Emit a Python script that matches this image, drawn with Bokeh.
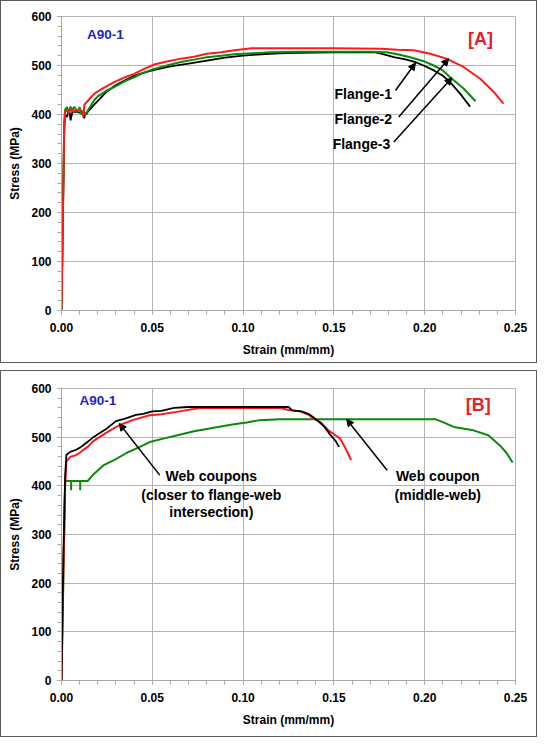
from bokeh.plotting import figure
from bokeh.layouts import column
from bokeh.models import (Range1d, SingleIntervalTicker, NumeralTickFormatter,
                          Label, Arrow, NormalHead)
from bokeh.embed import file_html
from bokeh.resources import INLINE

# ---------------- Panel A data (flange coupons) ----------------
a_f1_x = [0, 0.0015, 0.002, 0.003, 0.004, 0.0045, 0.005, 0.006, 0.008, 0.010, 0.012, 0.0125, 0.013,
          0.0135, 0.015, 0.018, 0.02, 0.025, 0.03, 0.035, 0.04, 0.045, 0.05, 0.06, 0.07, 0.08, 0.09,
          0.10, 0.11, 0.12, 0.13, 0.15, 0.1729, 0.178, 0.183, 0.19, 0.1949, 0.20, 0.205, 0.21,
          0.214, 0.2196, 0.225]
a_f1_y = [0, 370, 400, 395, 408, 405, 388, 405, 406, 404, 405, 392, 402,
          400, 408, 420, 428, 447, 460, 470, 479, 485, 490, 498, 504, 510, 516,
          520, 523, 525, 526, 527, 527, 522, 517, 512, 507, 499, 490, 479,
          466, 442, 416]

a_f2_x = [0, 0.0015, 0.002, 0.003, 0.004, 0.005, 0.006, 0.008, 0.010, 0.0115, 0.012, 0.0126, 0.015,
          0.018, 0.022, 0.025, 0.029, 0.035, 0.040, 0.045, 0.051, 0.058, 0.0658, 0.073, 0.080,
          0.088, 0.095, 0.105, 0.12, 0.15, 0.1757, 0.185, 0.194, 0.203, 0.212, 0.2214, 0.2306,
          0.238, 0.2434]
a_f2_y = [0, 380, 405, 410, 402, 412, 406, 408, 410, 405, 395, 420, 430,
          442, 452, 458, 466, 476, 483, 492, 502, 508, 514, 518, 524,
          527, 531, 535, 535, 535, 534, 532, 531, 524, 514, 497, 473,
          446, 422]

a_f3_x = [0, 0.0015, 0.002, 0.003, 0.004, 0.005, 0.006, 0.007, 0.008, 0.009, 0.010, 0.011, 0.012,
          0.013, 0.014, 0.018, 0.02, 0.025, 0.029, 0.035, 0.04, 0.045, 0.051, 0.058, 0.0658, 0.073,
          0.08, 0.088, 0.095, 0.105, 0.115, 0.13, 0.15, 0.17, 0.179, 0.185, 0.192, 0.20, 0.205,
          0.21, 0.214, 0.2214, 0.228]
a_f3_y = [0, 380, 410, 415, 405, 416, 408, 416, 410, 405, 415, 400, 408,
          400, 405, 429, 437, 449, 456, 468, 476, 485, 493, 500, 507, 512,
          517, 520, 523, 525, 527, 528, 528, 528, 527, 523, 517, 508, 500,
          490, 476, 453, 427]

# ---------------- Panel B data (web coupons) ----------------
b_w1_x = [0, 0.001, 0.002, 0.0027, 0.005, 0.008, 0.010, 0.0125, 0.015, 0.0175, 0.02, 0.025, 0.03,
          0.035, 0.041, 0.045, 0.05, 0.055, 0.062, 0.07, 0.08, 0.10, 0.125, 0.127, 0.132, 0.136,
          0.139, 0.142, 0.145, 0.148, 0.151, 0.1528]
b_w1_y = [0, 250, 420, 464, 470, 474, 478, 485, 492, 500, 506, 518, 533,
          538, 546, 548, 553, 554, 560, 562, 562, 562, 562, 555, 553, 548,
          540, 531, 520, 505, 492, 480]

b_w2_x = [0, 0.001, 0.002, 0.0027, 0.005, 0.008, 0.010, 0.0125, 0.015, 0.0175, 0.02, 0.025, 0.032,
          0.04, 0.0486, 0.055, 0.065, 0.076, 0.09, 0.11, 0.1206, 0.125, 0.1316, 0.136, 0.139,
          0.143, 0.147, 0.150, 0.1535, 0.156, 0.1595]
b_w2_y = [0, 220, 400, 450, 460, 463, 468, 475, 482, 492, 498, 510, 525,
          536, 545, 547, 553, 560, 560, 560, 560, 556, 553, 546, 538,
          530, 514, 506, 497, 480, 453]

b_mid_x = [0, 0.001, 0.002, 0.0053, 0.0053, 0.0053, 0.0103, 0.0103, 0.0103, 0.0144, 0.018, 0.023,
           0.03, 0.036, 0.042, 0.0486, 0.056, 0.065, 0.073, 0.0815, 0.094, 0.102, 0.109, 0.12,
           0.15, 0.18, 0.2058, 0.21, 0.216, 0.2268, 0.235, 0.2414, 0.245, 0.2484]
b_mid_y = [0, 200, 410, 410, 391, 410, 410, 391, 410, 410, 425, 442,
           455, 468, 478, 490, 497, 505, 512, 518, 526, 530, 535, 537,
           537, 537, 537, 531, 521, 514, 504, 483, 468, 448]

FONT = "Liberation Sans"
RED = "#ff1a1a"
GREEN = "#0a8a0a"
BLACK = "#000000"
BLUE = "#1f1fcc"


def make_panel(width, height, mb_left, mb_right, mb_top, mb_bottom):
    p = figure(width=width, height=height, output_backend="svg", toolbar_location=None,
               x_range=Range1d(0, 0.25), y_range=Range1d(0, 600),
               min_border_left=mb_left, min_border_right=mb_right,
               min_border_top=mb_top, min_border_bottom=mb_bottom,
               background_fill_color="white", border_fill_color="white",
               styles={"border": "1.5px solid #5a5a5a", "box-sizing": "border-box"})
    p.outline_line_color = "#b4b4b4"
    p.xaxis.ticker = SingleIntervalTicker(interval=0.05, num_minor_ticks=5)
    p.yaxis.ticker = SingleIntervalTicker(interval=100, num_minor_ticks=5)
    p.xaxis.formatter = NumeralTickFormatter(format="0.00")
    p.xaxis.axis_label = "Strain (mm/mm)"
    p.yaxis.axis_label = "Stress (MPa)"
    for ax in (p.xaxis[0], p.yaxis[0]):
        ax.axis_line_color = "#a8a8a8"
        ax.major_tick_line_color = "#a8a8a8"
        ax.minor_tick_line_color = "#a8a8a8"
        ax.major_tick_in = 0
        ax.major_tick_out = 4
        ax.minor_tick_in = 0
        ax.minor_tick_out = 4
        ax.major_label_text_font = FONT
        ax.major_label_text_font_style = "bold"
        ax.major_label_text_font_size = "12px"
        ax.major_label_text_color = "black"
        ax.axis_label_text_font = FONT
        ax.axis_label_text_font_style = "bold"
        ax.axis_label_text_font_size = "12px"
        ax.axis_label_text_color = "black"
    p.xaxis.major_label_standoff = 8
    p.xaxis.axis_label_standoff = 8
    p.yaxis.major_label_standoff = 6
    p.yaxis.axis_label_standoff = 6
    p.grid.grid_line_color = "#b4b4b4"
    p.grid.grid_line_width = 1
    return p


def add_label(p, x, y, text, size="14px", color="black", align="left"):
    p.add_layout(Label(x=x, y=y, text=text, text_font=FONT, text_font_style="bold",
                       text_font_size=size, text_color=color, text_align=align,
                       text_baseline="middle"))


def add_arrow(p, x0, y0, x1, y1):
    p.add_layout(Arrow(end=NormalHead(size=7, fill_color="black", line_color="black"),
                       x_start=x0, y_start=y0, x_end=x1, y_end=y1,
                       line_color="black", line_width=1.5))


# ---------------- Panel A ----------------
pa = make_panel(537, 363, 59, 23, 15, 54)
pa.line(a_f1_x, a_f1_y, line_color=BLACK, line_width=1.8)
pa.line(a_f3_x, a_f3_y, line_color=GREEN, line_width=2)
pa.line(a_f2_x, a_f2_y, line_color=RED, line_width=2)
add_label(pa, 0.0141, 563, "A90-1", size="13.5px", color=BLUE)
add_label(pa, 0.2238, 554, "[A]", size="18px", color="#e8202a")
add_label(pa, 0.182, 442, "Flange-1", align="right")
add_label(pa, 0.182, 390, "Flange-2", align="right")
add_label(pa, 0.181, 339, "Flange-3", align="right")
add_arrow(pa, 0.1839, 449, 0.1949, 505)
add_arrow(pa, 0.1857, 395, 0.2132, 514)
add_arrow(pa, 0.183, 344, 0.215, 475)

# ---------------- Panel B ----------------
pb = make_panel(537, 367, 60, 21, 17, 58)
pb.line(b_mid_x, b_mid_y, line_color=GREEN, line_width=2)
pb.line(b_w2_x, b_w2_y, line_color=RED, line_width=2)
pb.line(b_w1_x, b_w1_y, line_color=BLACK, line_width=1.8)
add_label(pb, 0.0099, 576, "A90-1", size="13.5px", color=BLUE)
add_label(pb, 0.2226, 567, "[B]", size="18px", color="#e8202a")
add_label(pb, 0.0825, 420.5, "Web coupons", align="center")
add_label(pb, 0.0825, 382, "(closer to flange-web", align="center")
add_label(pb, 0.0825, 346.5, "intersection)", align="center")
add_label(pb, 0.2072, 420.5, "Web coupon", align="center")
add_label(pb, 0.2072, 382, "(middle-web)", align="center")
add_arrow(pb, 0.0541, 422, 0.0318, 528)
add_arrow(pb, 0.1793, 432, 0.157, 537)

layout = column(pa, pb, spacing=7)
open("out.html", "w").write(file_html(layout, INLINE))
